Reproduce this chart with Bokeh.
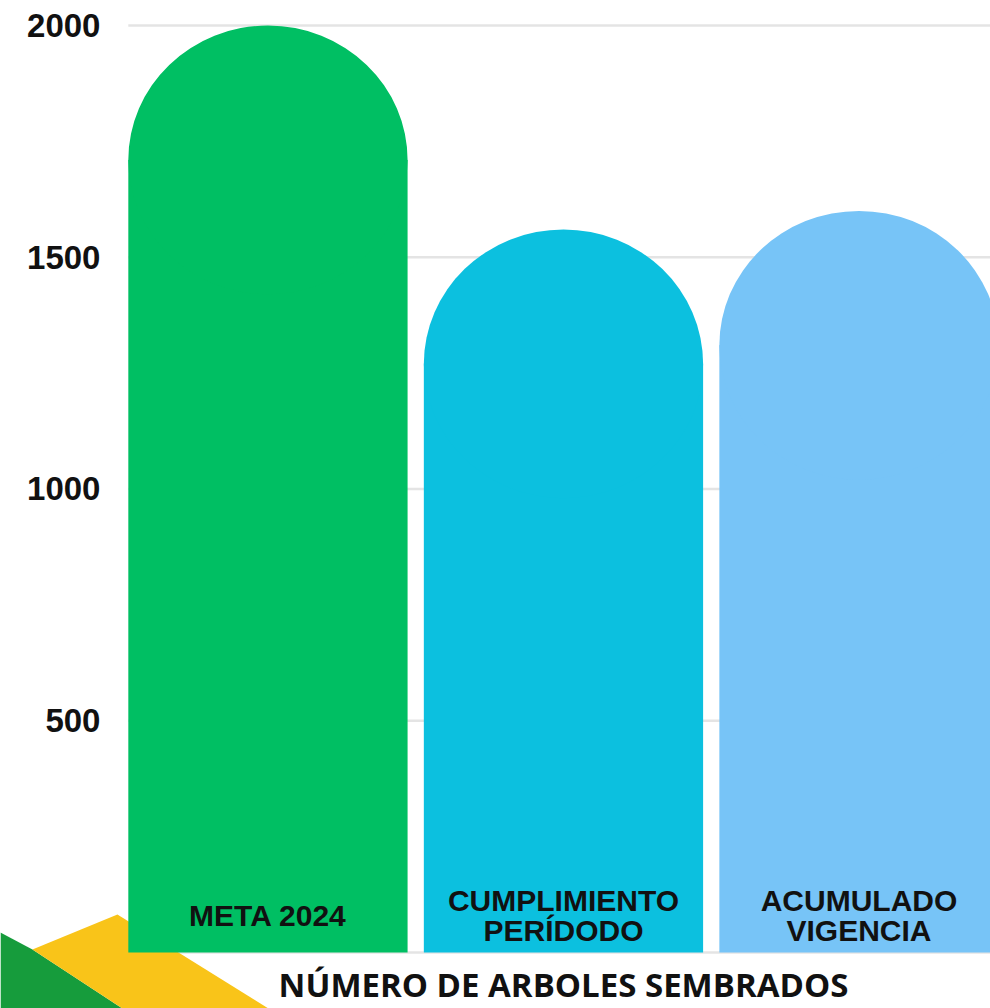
from bokeh.plotting import figure
from bokeh.models import Range1d, Label
from bokeh.core.properties import value
from bokeh.embed import file_html
from bokeh.resources import INLINE

# ---- data ----
categories = ["META 2024", "CUMPLIMIENTO\nPERÍDODO", "ACUMULADO\nVIGENCIA"]
values = [2000, 1560, 1600]
colors = ["#00BF63", "#0CC0DF", "#77C4F7"]
y_ticks = [500, 1000, 1500, 2000]
y_tick_labels = ["500", "1000", "1500", "2000"]
chart_title = "NÚMERO DE ARBOLES SEMBRADOS"

# ---- style ----
BAR_W = 0.945
CAP = 290          # height (data units) of the rounded top
LABEL_Y = 80       # data y of the in-bar labels
X_START, X_END = -0.905, 2.445
Y_START, Y_END = -120.8, 2053.9

W, H = 990, 1008
p = figure(width=W, height=H, output_backend="svg", toolbar_location=None,
           x_range=Range1d(X_START, X_END), y_range=Range1d(Y_START, Y_END),
           x_axis_location=None, y_axis_location=None,
           min_border_left=0, min_border_right=0,
           min_border_top=0, min_border_bottom=0)
p.outline_line_color = None
p.background_fill_color = "white"
p.border_fill_color = "white"
p.xgrid.visible = False
p.ygrid.visible = False

# reference-pixel helpers for decoration / label placement
def dx(px):
    return (px - 267.5) / 295.5
def dy(py):
    return (952 - py) / 0.4635

# grid lines starting at the left edge of the first bar
grid_y = [0] + y_ticks
p.segment(x0=[-BAR_W / 2] * len(grid_y), x1=[X_END] * len(grid_y), y0=grid_y, y1=grid_y,
          line_color="#e4e4e4", line_width=2.5)

# y tick labels
p.text(x=[dx(100)] * len(y_ticks), y=y_ticks, text=y_tick_labels,
       text_align="right", text_baseline="middle",
       text_font=value("Liberation Sans"), text_font_style="bold",
       text_font_size="33px", text_color="#111111")

# corner decoration
green_pts = [(0, 932), (32, 949), (122, 1008), (0, 1008)]
yellow_pts = [(32, 949), (117, 914), (268, 1008), (122, 1008)]
for pts, col in [(green_pts, "#169C3C"), (yellow_pts, "#F9C419")]:
    p.patch(x=[dx(a) for a, b in pts], y=[dy(b) for a, b in pts],
            fill_color=col, line_color=None)

# bars with rounded tops
xs = list(range(len(categories)))
body_top = [v - CAP for v in values]
p.vbar(x=xs, top=body_top, bottom=0, width=BAR_W, color=colors, line_color=None)
p.ellipse(x=xs, y=body_top, width=BAR_W, height=2 * CAP, color=colors, line_color=None)

p.text(x=xs, y=[LABEL_Y] * len(xs), text=categories, text_align="center",
       text_baseline="middle", text_font=value("Liberation Sans"),
       text_font_style="bold", text_font_size="30px", text_color="#111111",
       text_line_height=0.93)

p.add_layout(Label(x=1, y=dy(984), text=chart_title, text_align="center",
                   text_baseline="middle", text_font="Open Sans",
                   text_font_style="bold", text_font_size="33px",
                   text_color="#111111"))

open("out.html", "w").write(file_html(p, INLINE))
